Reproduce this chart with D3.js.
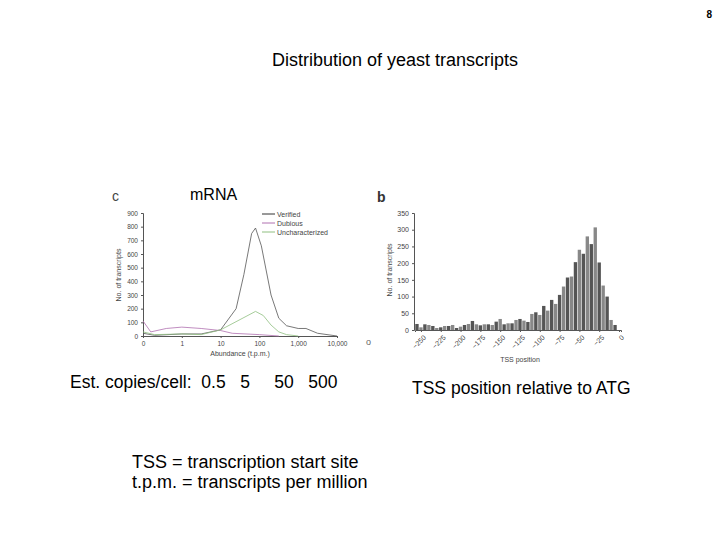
<!DOCTYPE html>
<html><head><meta charset="utf-8">
<script src="https://cdn.jsdelivr.net/npm/d3@7"></script>
<style>body{margin:0;background:#fff}text{font-family:"Liberation Sans",Arial,sans-serif}</style>
</head><body><svg id="s" width="720" height="540"></svg>
<script>
// abundance chart (x = log10 position index, 0 = "0")
var abundTicks = ["0", "1", "10", "100", "1,000", "10,000"];
var verified = [[0,20],[0.3,5],[1,15],[1.5,15],[2,45],[2.4,200],[2.6,450],[2.8,750],[2.9,790],[3.05,660],[3.3,300],[3.5,130],[3.7,75],[4,55],[4.2,55],[4.5,20],[5,0]];
var dubious = [[0,110],[0.2,30],[0.6,55],[1,65],[1.5,55],[2,40],[2.3,20],[3,10],[3.5,0]];
var uncharacterized = [[0,30],[0.3,10],[1,15],[1.5,10],[2,45],[2.5,120],[2.9,180],[3.1,150],[3.3,80],[3.5,30],[3.7,10],[4,0]];
// TSS histogram
var tssPos = d3.range(-255, 0, 5);
var tssCounts = [18,8,17,15,12,6,8,12,12,15,6,10,15,18,27,17,14,17,17,15,25,33,17,20,20,30,33,28,24,48,53,45,72,58,90,78,105,130,157,160,203,240,228,280,257,307,202,133,100,30,15];
var tssTicks = [-250,-225,-200,-175,-150,-125,-100,-75,-50,-25,0];

var svg = d3.select("#s");
function txt(x, y, s, size, opt) {
  opt = opt || {};
  return svg.append("text").attr("x", x).attr("y", y).attr("font-size", size)
    .attr("text-anchor", opt.anchor || "start").attr("font-weight", opt.weight || "normal")
    .attr("fill", opt.fill || "#000").style("white-space", "pre").text(s);
}
txt(712, 18, "8", 10, {anchor: "end", weight: "bold"});
txt(395, 66, "Distribution of yeast transcripts", 18, {anchor: "middle"});
txt(112, 201, "c", 14, {fill: "#444"});
txt(190, 200, "mRNA", 16);
txt(377, 202, "b", 14, {weight: "bold", fill: "#333"});
txt(70, 388, "Est. copies/cell:  0.5   5     50   500", 17.5);
txt(412, 394, "TSS position relative to ATG", 17.5);
txt(132, 468, "TSS = transcription start site", 18);
txt(132, 488, "t.p.m. = transcripts per million", 18);
txt(366, 345, "o", 9, {fill: "#666"});

// left chart
var x1 = d3.scaleLinear().domain([0, 5]).range([143, 337]);
var y1 = d3.scaleLinear().domain([0, 900]).range([336, 213]);
var g1 = svg.append("g");
g1.append("g").attr("transform", "translate(143,0)")
  .call(d3.axisLeft(y1).tickValues(d3.range(0, 901, 100)).tickSize(2))
  .call(function(a){ a.selectAll("text").attr("font-size", 6.5).attr("fill", "#444"); a.selectAll("path,line").attr("stroke", "#555"); });
g1.append("g").attr("transform", "translate(0,336)")
  .call(d3.axisBottom(x1).ticks(5).tickFormat(function(d){ return abundTicks[d]; }).tickSize(2))
  .call(function(a){ a.selectAll("text").attr("font-size", 6.5).attr("fill", "#444"); a.selectAll("path,line").attr("stroke", "#555"); });
var line1 = d3.line().x(function(d){ return x1(d[0]); }).y(function(d){ return y1(d[1]); });
[[verified, "#555"], [dubious, "#b070b0"], [uncharacterized, "#8fbf80"]].forEach(function(p){
  svg.append("path").datum(p[0]).attr("d", line1).attr("fill", "none").attr("stroke", p[1]).attr("stroke-width", 0.8);
});
txt(240, 356, "Abundance (t.p.m.)", 7, {anchor: "middle", fill: "#444"});
svg.append("text").attr("transform", "translate(121,275) rotate(-90)").attr("text-anchor", "middle")
  .attr("font-size", 7).attr("fill", "#444").text("No. of transcripts");
var leg = [["Verified", "#333"], ["Dubious", "#b070b0"], ["Uncharacterized", "#8fbf80"]];
leg.forEach(function(l, i){
  var yy = 214 + i * 9;
  svg.append("line").attr("x1", 262).attr("x2", 275).attr("y1", yy).attr("y2", yy).attr("stroke", l[1]);
  txt(277, yy + 2.5, l[0], 7, {fill: "#444"});
});

// right chart
var x2 = d3.scaleLinear().domain([-257.5, 2.5]).range([415, 621]);
var y2 = d3.scaleLinear().domain([0, 350]).range([330, 213]);
var bw = x2(5) - x2(0);
svg.append("g").selectAll("rect").data(tssCounts).enter().append("rect")
  .attr("x", function(d, i){ return x2(tssPos[i]) - bw / 2 + 0.3; })
  .attr("width", bw - 0.6)
  .attr("y", function(d){ return y2(d); })
  .attr("height", function(d){ return 330 - y2(d); })
  .attr("fill", function(d, i){ return i % 2 ? "#888" : "#555"; });
svg.append("g").attr("transform", "translate(414,0)")
  .call(d3.axisLeft(y2).tickValues(d3.range(0, 351, 50)).tickSize(2))
  .call(function(a){ a.selectAll("text").attr("font-size", 7).attr("fill", "#444"); a.selectAll("path,line").attr("stroke", "#555"); });
svg.append("g").attr("transform", "translate(0,330)")
  .call(d3.axisBottom(x2).tickValues(tssTicks).tickFormat(function(d){ return d < 0 ? "\u2212" + (-d) : d; }).tickSize(2))
  .call(function(a){
    a.selectAll("text").attr("font-size", 7).attr("fill", "#444").attr("text-anchor", "end")
      .attr("transform", "rotate(-45)").attr("dx", "-0.3em").attr("dy", "0.6em");
    a.selectAll("path,line").attr("stroke", "#555");
  });
svg.append("text").attr("transform", "translate(392,270) rotate(-90)").attr("text-anchor", "middle")
  .attr("font-size", 7).attr("fill", "#444").text("No. of transcripts");
txt(520, 362, "TSS position", 7, {anchor: "middle", fill: "#444"});
</script></body></html>
